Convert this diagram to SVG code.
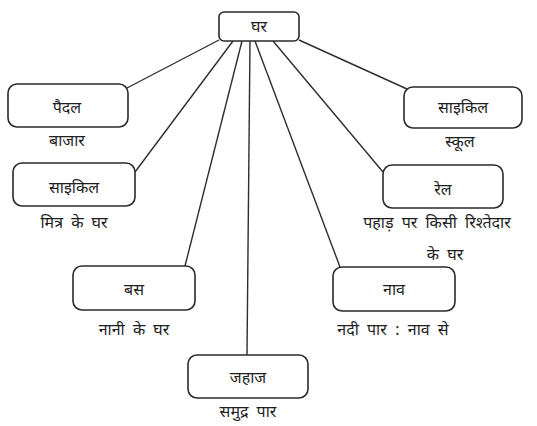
<svg xmlns="http://www.w3.org/2000/svg" width="537" height="426" viewBox="0 0 537 426">
<style>
.box{fill:#fff;stroke:#2a2a2a;stroke-width:1.6}
.edge{stroke:#2e2e2e;stroke-width:1.4;fill:none}
text{font-family:"Noto Sans Devanagari","Lohit Devanagari","Noto Sans","FreeSans",sans-serif;font-size:16px;fill:#1e1e1e;text-anchor:middle;word-spacing:4px}
</style>
<rect width="537" height="426" fill="#fff"/>
<g id="connectors">
<line class="edge" x1="219" y1="40" x2="127" y2="88"/>
<line class="edge" x1="233" y1="41" x2="135" y2="172"/>
<line class="edge" x1="242" y1="41" x2="185" y2="266"/>
<line class="edge" x1="250" y1="41" x2="247" y2="355"/>
<line class="edge" x1="255" y1="41" x2="340" y2="267"/>
<line class="edge" x1="273" y1="41" x2="383" y2="172"/>
<line class="edge" x1="299" y1="40" x2="407" y2="89"/>
</g>
<g id="ghar"><rect class="box" x="219" y="12" width="80" height="29" rx="5"/><text x="259" y="32">घर</text></g>
<g id="paidal"><rect class="box" x="8" y="84" width="120" height="43" rx="9"/><text x="67" y="113">पैदल</text><text x="67" y="146">बाजार</text></g>
<g id="cycle-right"><rect class="box" x="404" y="87" width="118" height="41" rx="9"/><text x="463" y="113">साइकिल</text><text x="460" y="147">स्कूल</text></g>
<g id="cycle-left"><rect class="box" x="13" y="163" width="122" height="43" rx="9"/><text x="74" y="193">साइकिल</text><text x="74" y="228">मित्र के घर</text></g>
<g id="rail"><rect class="box" x="383" y="165" width="120" height="43" rx="9"/><text x="443" y="195">रेल</text><text x="437" y="228">पहाड़ पर किसी रिश्तेदार</text><text x="445" y="260">के घर</text></g>
<g id="bus"><rect class="box" x="73" y="266" width="122" height="44" rx="9"/><text x="134" y="295">बस</text><text x="134" y="335">नानी के घर</text></g>
<g id="naav"><rect class="box" x="333" y="267" width="122" height="44" rx="9"/><text x="394" y="295">नाव</text><text x="393" y="335">नदी पार : नाव से</text></g>
<g id="jahaj"><rect class="box" x="188" y="355" width="120" height="43" rx="9"/><text x="248" y="383">जहाज</text><text x="248" y="417">समुद्र पार</text></g>
</svg>
